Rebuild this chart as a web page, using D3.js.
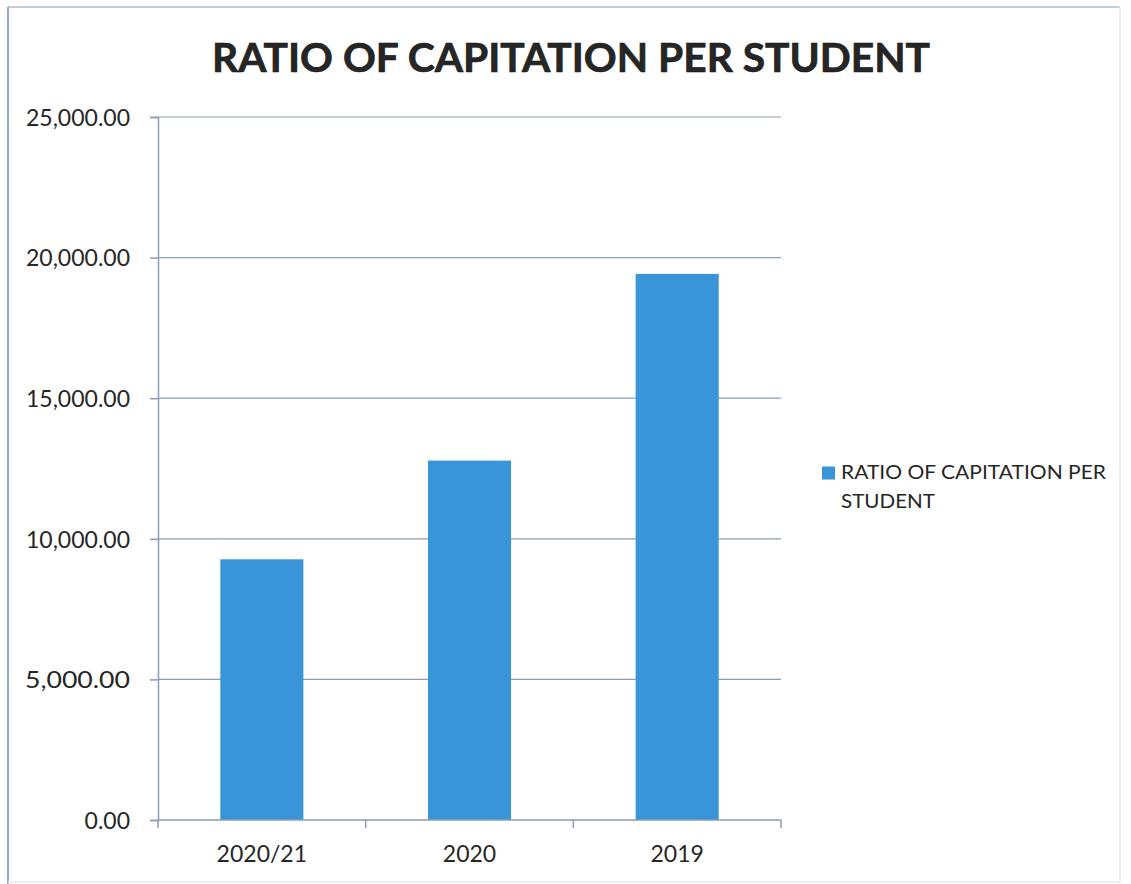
<!DOCTYPE html>
<html>
<head>
<meta charset="utf-8">
<script src="https://cdn.jsdelivr.net/npm/d3@7"></script>
<style>
html,body{margin:0;padding:0;background:#fff;}
svg{display:block;}
text{font-family:Lato,"Open Sans",sans-serif;fill:#262626;}
</style>
</head>
<body>
<svg id="chart" width="1131" height="884"></svg>
<script>
const title = "RATIO OF CAPITATION PER STUDENT";
const categories = ["2020/21", "2020", "2019"];
const values = [9270, 12780, 19420];
const seriesName = "RATIO OF CAPITATION PER STUDENT";
const legendLines = ["RATIO OF CAPITATION PER", "STUDENT"];
const yTicks = [0, 5000, 10000, 15000, 20000, 25000];

const svg = d3.select("#chart");
const plot = {left: 158, right: 781, top: 117, bottom: 820};
const barColor = "#3a95d8";
const axisColor = "#8a9cb6";

function fit(sel, w) {
  sel.each(function(){
    const len = this.getComputedTextLength();
    if (Math.abs(len - w) > 1) {
      d3.select(this).attr("textLength", w).attr("lengthAdjust", "spacingAndGlyphs");
    }
  });
}

// frame: left and top visible, right and bottom faint
const frame = svg.append("g").attr("fill", "none");
frame.append("line").attr("x1", 8).attr("y1", 7).attr("x2", 1120).attr("y2", 7)
  .attr("stroke", "#aebdd0").attr("stroke-width", 1.5);
frame.append("line").attr("x1", 8).attr("y1", 7).attr("x2", 8).attr("y2", 884)
  .attr("stroke", "#95a8c4").attr("stroke-width", 2);
frame.append("line").attr("x1", 1120).attr("y1", 7).attr("x2", 1120).attr("y2", 882)
  .attr("stroke", "#e6ebf1").attr("stroke-width", 1.5);
frame.append("line").attr("x1", 8).attr("y1", 882).attr("x2", 1120).attr("y2", 882)
  .attr("stroke", "#e6ebf1").attr("stroke-width", 1.5);

const x = d3.scaleBand().domain(categories).range([plot.left, plot.right]).paddingInner(0.6).paddingOuter(0.3);
const y = d3.scaleLinear().domain([0, 25000]).range([plot.bottom, plot.top]);

// gridlines
svg.append("g").selectAll("line").data(yTicks.filter(d => d > 0)).join("line")
  .attr("x1", plot.left).attr("x2", plot.right)
  .attr("y1", d => y(d)).attr("y2", d => y(d))
  .attr("stroke", axisColor).attr("stroke-width", 1.2);

// bars
svg.append("g").selectAll("rect").data(values).join("rect")
  .attr("x", (d, i) => x(categories[i]))
  .attr("width", x.bandwidth())
  .attr("y", d => y(d))
  .attr("height", d => y(0) - y(d))
  .attr("fill", barColor);

// y axis
const fmt = d3.format(",.2f");
const yAxis = svg.append("g").attr("transform", `translate(${plot.left},0)`)
  .call(d3.axisLeft(y).tickValues(yTicks).tickFormat(fmt).tickSize(8).tickPadding(20));
yAxis.select(".domain").attr("stroke", axisColor).attr("stroke-width", 1.5);
yAxis.selectAll(".tick line").attr("stroke", axisColor).attr("stroke-width", 1.5);
yAxis.selectAll(".tick text").attr("font-size", 23).attr("fill", "#262626")
  .attr("font-family", "Lato, 'Open Sans', sans-serif").attr("dy", "0.36em");
yAxis.selectAll(".tick text").each(function(d){
  const n = fmt(d).length;
  fit(d3.select(this), n === 4 ? 46 : 105);
});

// x axis with category boundary ticks
const xAxisG = svg.append("g").attr("transform", `translate(0,${plot.bottom})`);
xAxisG.append("line").attr("x1", plot.left).attr("x2", plot.right).attr("y1", 0).attr("y2", 0)
  .attr("stroke", axisColor).attr("stroke-width", 1.5);
const step = x.step();
const bpos = d3.range(categories.length + 1).map(i => plot.left + i * step);
xAxisG.selectAll("line.tk").data(bpos).join("line").attr("class", "tk")
  .attr("x1", d => d).attr("x2", d => d).attr("y1", 0).attr("y2", 8)
  .attr("stroke", axisColor).attr("stroke-width", 1.5);
xAxisG.selectAll("text").data(categories).join("text")
  .attr("x", d => x(d) + x.bandwidth() / 2).attr("y", 42)
  .attr("text-anchor", "middle").attr("font-size", 23)
  .text(d => d);

// title
const t = svg.append("text").attr("x", 571).attr("y", 72).attr("text-anchor", "middle")
  .attr("font-size", 40).attr("font-weight", "bold").attr("fill", "#111")
  .attr("stroke", "#111").attr("stroke-width", 0.6).text(title);
fit(t, 718);

// legend
svg.append("rect").attr("x", 822).attr("y", 466.5).attr("width", 13).attr("height", 13).attr("fill", barColor);
svg.append("g").selectAll("text").data(legendLines).join("text")
  .attr("x", 841).attr("y", (d, i) => 479 + i * 29)
  .attr("font-size", 19.5).text(d => d)
  .each(function(d, i){ fit(d3.select(this), i === 0 ? 265 : 94); });
</script>
</body>
</html>
